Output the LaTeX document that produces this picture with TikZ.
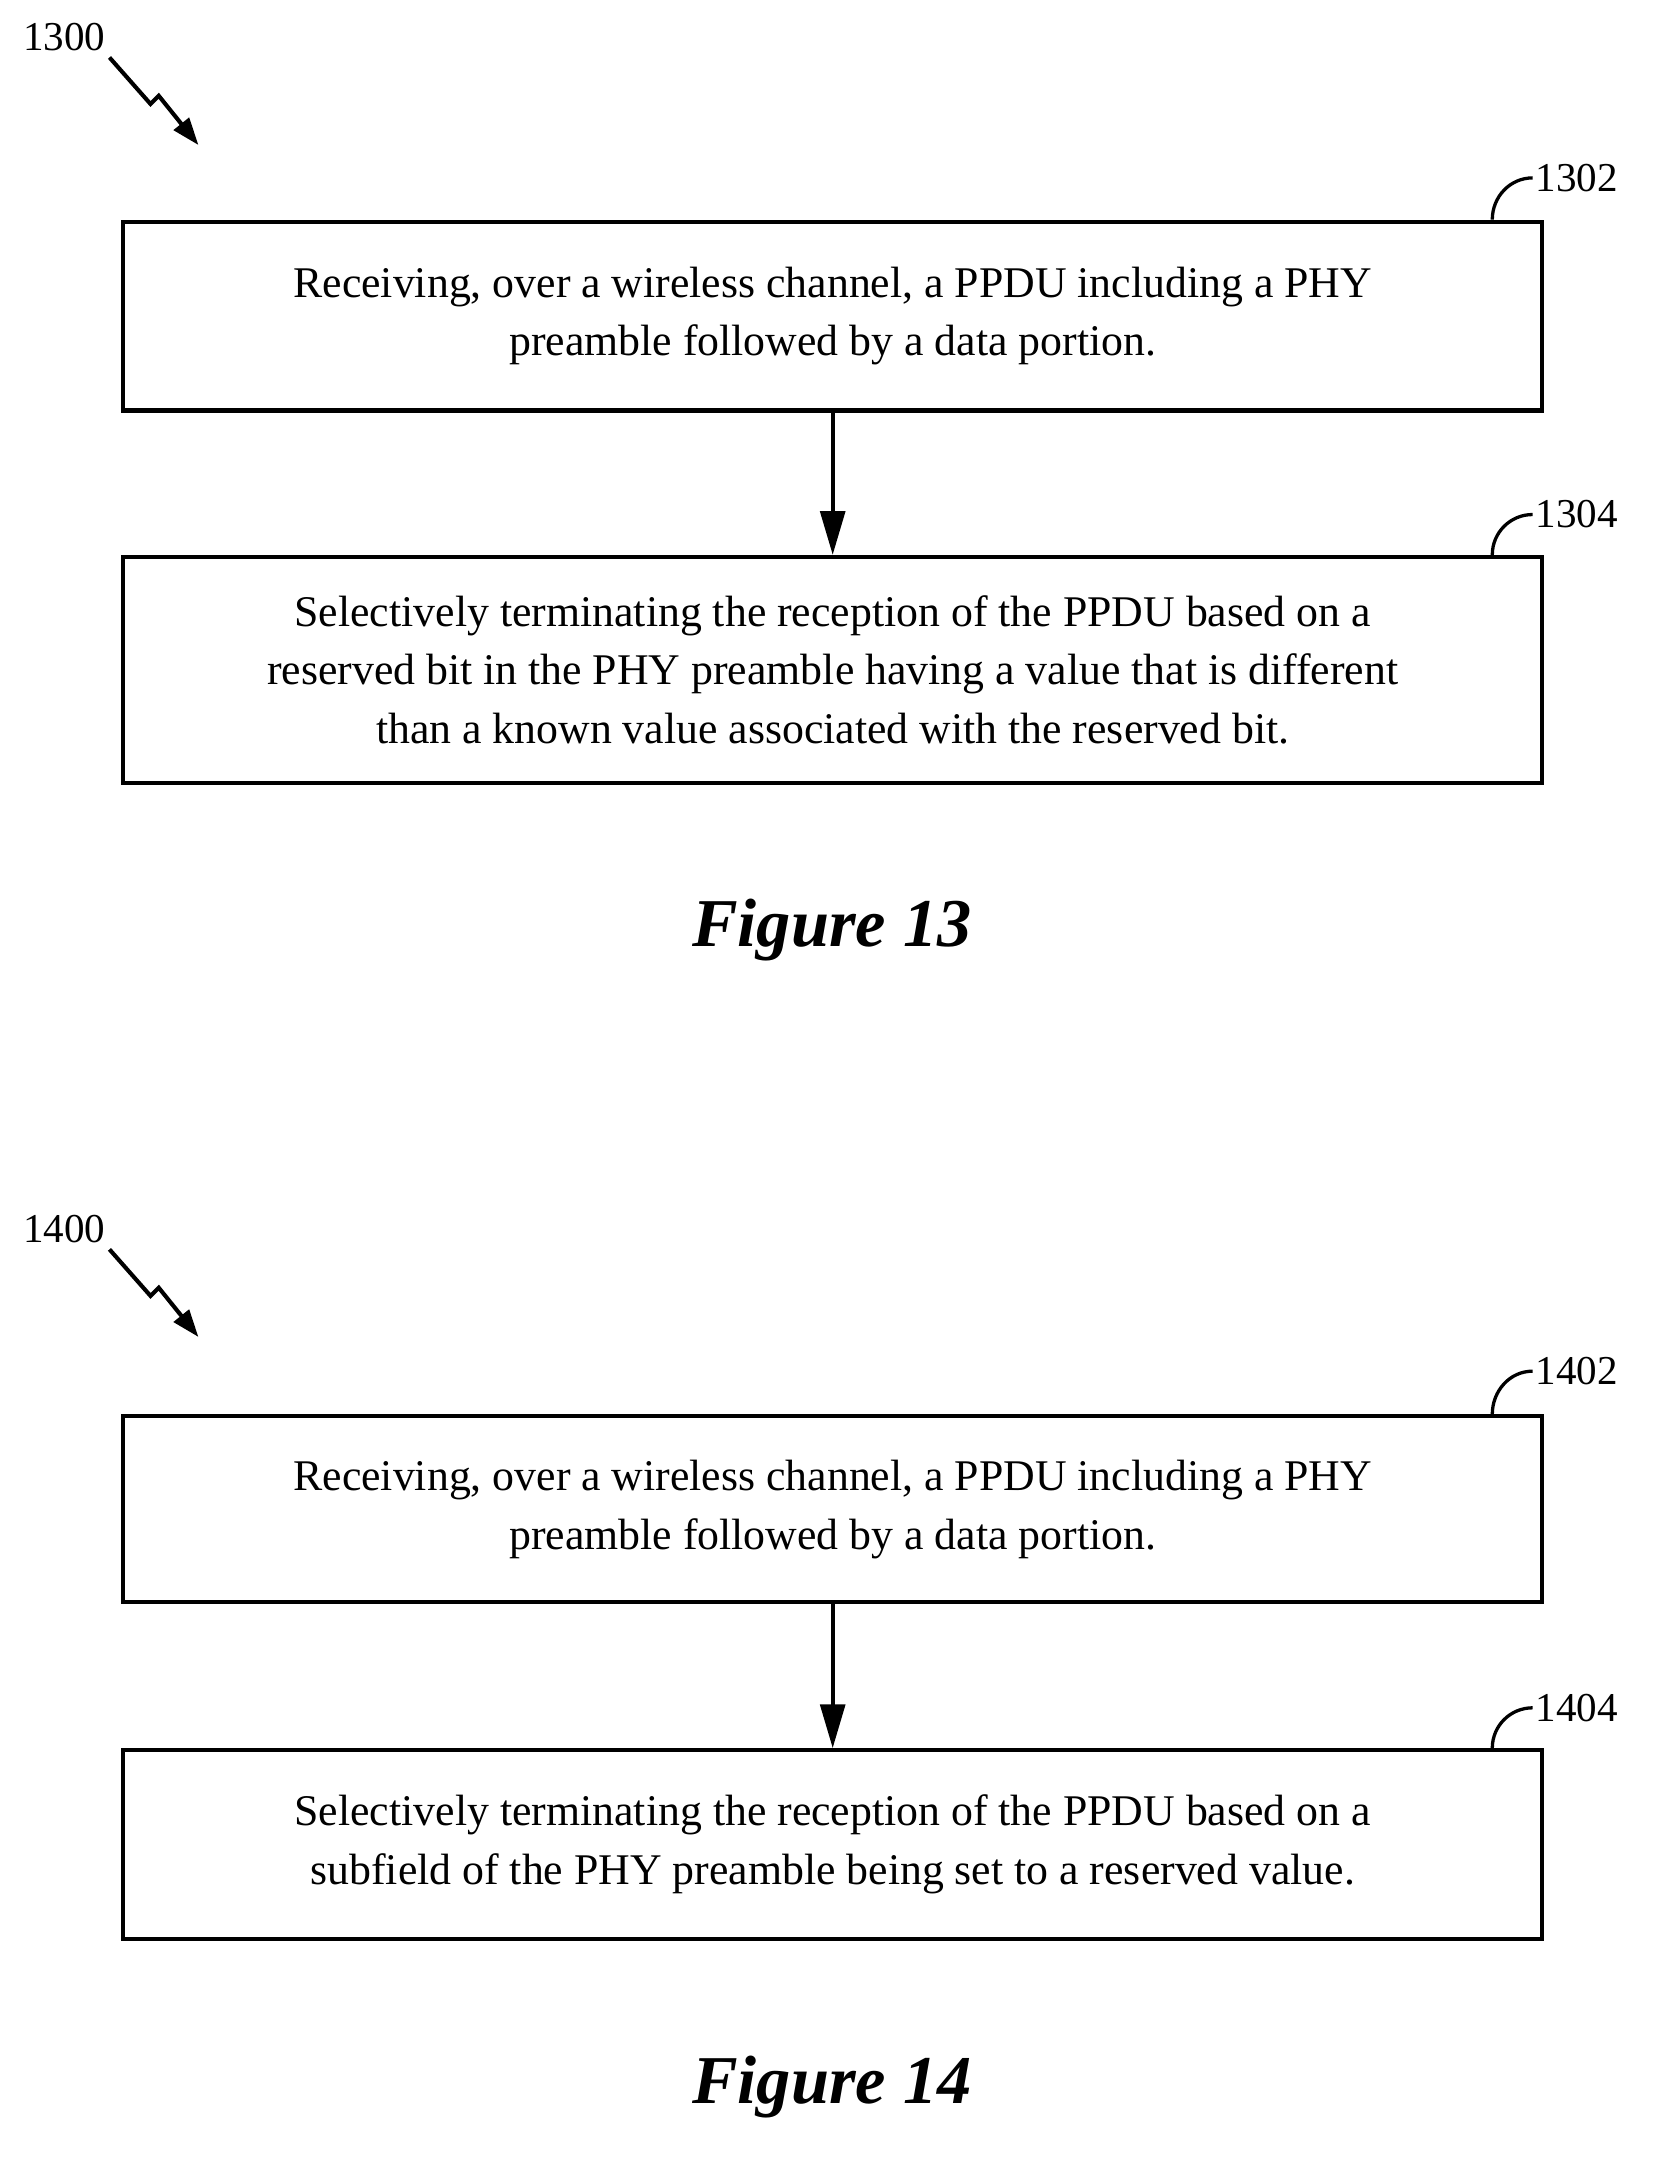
\documentclass[tikz,border=0pt]{standalone}
\usepackage{fontspec}
\setmainfont{Liberation Serif}
\usetikzlibrary{arrows.meta}
\begin{document}
\begin{tikzpicture}[x=0.5pt,y=-0.5pt,
 box/.style={draw,line width=1.5pt,minimum width=518.5pt,align=center,font=\fontsize{16}{21.5}\selectfont},
 lab/.style={font=\fontsize{15}{18}\selectfont,inner sep=1pt},
 fig/.style={font=\fontsize{25}{30}\selectfont\bfseries\itshape},
 arr/.style={line width=1.5pt,-{Triangle[length=16pt,width=9pt]}}]
\useasboundingbox (0,0) rectangle (1213,1577);
% Figure 13
\node[lab] (l1300) at (47,27) {1300};
\coordinate (z1) at (80,42);\coordinate (z2) at (145,106);
\draw[line width=1.5pt,-{Triangle[length=10pt,width=7pt]}] (z1) -- (110,76) -- (116,70) -- (z2);
\node[box,minimum height=69pt] (b1302) at (608.5,231) {Receiving, over a wireless channel, a PPDU including a PHY\\preamble followed by a data portion.};
\node[box,minimum height=82.5pt] (b1304) at (608.5,489.5) {Selectively terminating the reception of the PPDU based on a\\reserved bit in the PHY preamble having a value that is different\\than a known value associated with the reserved bit.};
\draw[arr] (b1302) -- (b1304);
\node[lab,anchor=west] (l1302) at (1120,130) {1302};
\node[lab,anchor=west] (l1304) at (1120,376) {1304};
\draw[line width=1.2pt] (b1302.north east) ++(-38,0) to[out=90,in=180] (l1302.west);
\draw[line width=1.2pt] (b1304.north east) ++(-38,0) to[out=90,in=180] (l1304.west);
\node[fig] (f13) at (608,680) {Figure 13};
% Figure 14
\node[lab] (l1400) at (47,898) {1400};
\coordinate (y1) at (80,913);\coordinate (y2) at (145,977);
\draw[line width=1.5pt,-{Triangle[length=10pt,width=7pt]}] (y1) -- (110,947) -- (116,941) -- (y2);
\node[box,minimum height=68pt] (b1402) at (608.5,1103) {Receiving, over a wireless channel, a PPDU including a PHY\\preamble followed by a data portion.};
\node[box,minimum height=69pt] (b1404) at (608.5,1348) {Selectively terminating the reception of the PPDU based on a\\subfield of the PHY preamble being set to a reserved value.};
\draw[arr] (b1402) -- (b1404);
\node[lab,anchor=west] (l1402) at (1120,1002) {1402};
\node[lab,anchor=west] (l1404) at (1120,1248) {1404};
\draw[line width=1.2pt] (b1402.north east) ++(-38,0) to[out=90,in=180] (l1402.west);
\draw[line width=1.2pt] (b1404.north east) ++(-38,0) to[out=90,in=180] (l1404.west);
\node[fig] (f14) at (608,1525) {Figure 14};
\end{tikzpicture}
\end{document}
